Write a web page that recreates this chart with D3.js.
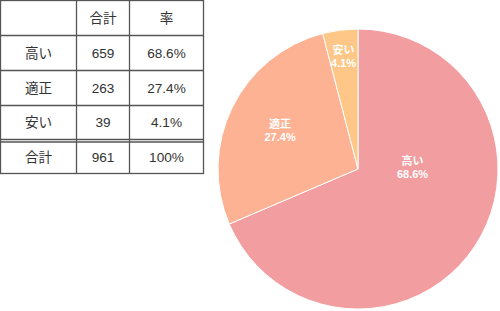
<!DOCTYPE html>
<html>
<head>
<meta charset="utf-8">
<script src="https://cdn.jsdelivr.net/npm/d3@7"></script>
<style>
  body { margin: 0; background: #fff; }
  svg { display: block; }
</style>
</head>
<body>
<svg width="500" height="311"></svg>
<script>
// categories and values
const categories = ["高い", "適正", "安い"];
const counts = [659, 263, 39];
const rates = ["68.6%", "27.4%", "4.1%"];
const totalLabel = "合計";
const totalCount = 961;
const totalRate = "100%";
const headers = ["", "合計", "率"];

const colors = ["#f29d9f", "#fdb294", "#fec787"];

const svg = d3.select("svg");
const jpFont = "'Liberation Sans', 'Noto Sans CJK JP', sans-serif";

// ---- table ----
const table = svg.append("g").attr("transform", "translate(0.5,0.5)");
const colEdges = [0, 76, 129, 203];
const rowEdges = [0, 35, 70, 105, 139, 173];
const lineColor = "#555";

const rows = [headers].concat(
  categories.map((c, i) => [c, String(counts[i]), rates[i]]),
  [[totalLabel, String(totalCount), totalRate]]
);

// outer border + grid
table.append("rect")
  .attr("x", colEdges[0]).attr("y", rowEdges[0])
  .attr("width", colEdges[3] - colEdges[0])
  .attr("height", rowEdges[5] - rowEdges[0])
  .attr("fill", "none").attr("stroke", lineColor).attr("stroke-width", 1.3);

colEdges.slice(1, 3).forEach(x => {
  table.append("line")
    .attr("x1", x).attr("x2", x).attr("y1", 0).attr("y2", rowEdges[5])
    .attr("stroke", lineColor).attr("stroke-width", 1.3);
});
rowEdges.slice(1, 5).forEach(y => {
  table.append("line")
    .attr("x1", 0).attr("x2", colEdges[3]).attr("y1", y).attr("y2", y)
    .attr("stroke", lineColor).attr("stroke-width", 1.3);
});
// double line above the total row
table.append("line")
  .attr("x1", 0).attr("x2", colEdges[3]).attr("y1", rowEdges[4] + 2.5).attr("y2", rowEdges[4] + 2.5)
  .attr("stroke", lineColor).attr("stroke-width", 1.3);

rows.forEach((r, ri) => {
  const top = rowEdges[ri] + (ri === 4 ? 2.5 : 0);
  const cy = (top + rowEdges[ri + 1]) / 2;
  r.forEach((txt, ci) => {
    table.append("text")
      .attr("x", (colEdges[ci] + colEdges[ci + 1]) / 2)
      .attr("y", cy)
      .attr("text-anchor", "middle")
      .attr("dominant-baseline", "central")
      .attr("font-family", jpFont)
      .attr("font-size", 13.6)
      .attr("fill", "#333")
      .text(txt);
  });
});

// ---- pie ----
const cx = 358, cy = 169, radius = 140;
const g = svg.append("g").attr("transform", `translate(${cx},${cy})`);

const pie = d3.pie().sort(null).value(d => d);
const arcs = pie(counts);
const arc = d3.arc().innerRadius(0).outerRadius(radius);

g.selectAll("path.slice")
  .data(arcs)
  .enter().append("path")
  .attr("class", "slice")
  .attr("d", arc)
  .attr("fill", (d, i) => colors[i])
  .attr("stroke", "#fff")
  .attr("stroke-width", 1);

// label anchors: radius fraction and angle shift (radians) from slice middle
const labelRadius = [0.39, 0.62, 0.81];
const labelShift = [-0.62, 0, 0];

arcs.forEach((d, i) => {
  const a = (d.startAngle + d.endAngle) / 2 + labelShift[i];
  const r = radius * labelRadius[i];
  const x = Math.sin(a) * r;
  const y = -Math.cos(a) * r;
  const t = g.append("text")
    .attr("text-anchor", "middle")
    .attr("font-family", jpFont)
    .attr("font-size", 11)
    .attr("font-weight", "bold")
    .attr("fill", "#fff");
  t.append("tspan").attr("x", x).attr("y", y - 6.5).attr("dominant-baseline", "central").text(categories[i]);
  t.append("tspan").attr("x", x).attr("y", y + 6.5).attr("dominant-baseline", "central").text(rates[i]);
});
</script>
</body>
</html>
